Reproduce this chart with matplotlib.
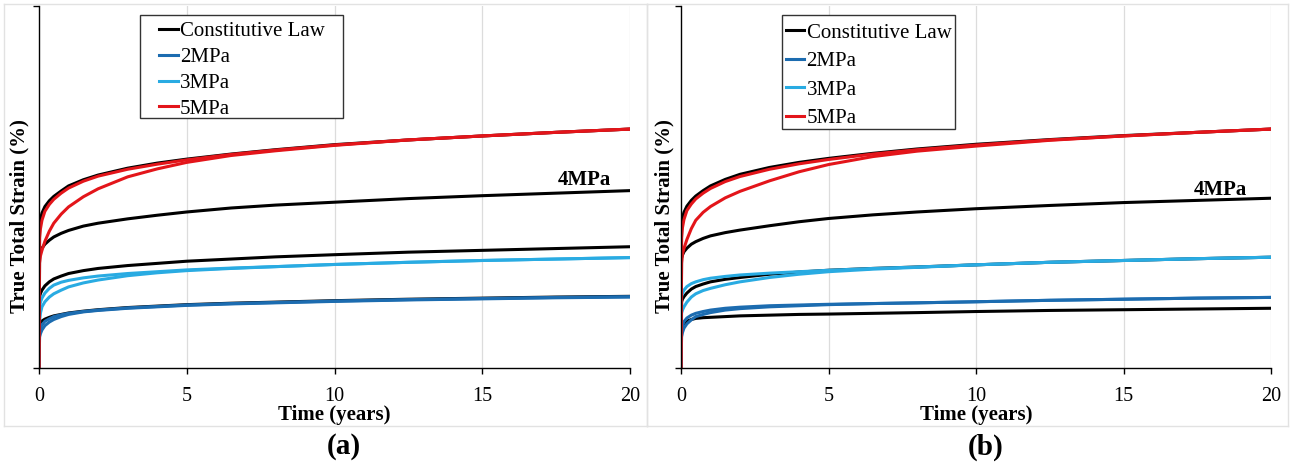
import matplotlib
matplotlib.use("Agg")
import matplotlib.pyplot as plt
from matplotlib.lines import Line2D
from matplotlib.patches import Rectangle

plt.rcParams['font.family'] = ['Liberation Serif', 'DejaVu Serif']

# time (years); strain in arbitrary units (the y axis carries no numbers)
t = [0, 0.02, 0.05, 0.1, 0.2, 0.35, 0.5, 0.75, 1, 1.5, 2, 3, 4, 5, 6.5, 8, 10, 12.5, 15, 17.5, 20]

# panel (a)
a_cl5 = [0, 3.90, 4.10, 4.28, 4.46, 4.62, 4.74, 4.89, 5.03, 5.20, 5.33, 5.52, 5.66, 5.77, 5.91, 6.03, 6.17, 6.30, 6.41, 6.51, 6.60]
a_cl4 = [0, 3.18, 3.24, 3.31, 3.42, 3.53, 3.62, 3.72, 3.80, 3.92, 4.00, 4.12, 4.22, 4.31, 4.42, 4.50, 4.58, 4.68, 4.76, 4.83, 4.90]
a_cl3 = [0, 1.97, 2.06, 2.15, 2.27, 2.38, 2.46, 2.54, 2.61, 2.69, 2.75, 2.83, 2.89, 2.95, 3.01, 3.07, 3.13, 3.20, 3.25, 3.30, 3.35]
a_cl2 = [0, 1.20, 1.25, 1.30, 1.35, 1.40, 1.44, 1.48, 1.52, 1.57, 1.61, 1.67, 1.71, 1.75, 1.79, 1.82, 1.86, 1.90, 1.93, 1.96, 1.98]
a_5a = [0, 3.60, 3.85, 4.08, 4.33, 4.52, 4.66, 4.83, 4.97, 5.16, 5.30, 5.49, 5.63, 5.75, 5.90, 6.02, 6.16, 6.30, 6.41, 6.51, 6.60]
a_5b = [0, 2.90, 3.10, 3.25, 3.50, 3.78, 4.00, 4.25, 4.45, 4.73, 4.95, 5.28, 5.50, 5.68, 5.87, 6.00, 6.15, 6.30, 6.41, 6.51, 6.60]
a_3a = [0, 1.69, 1.82, 1.93, 2.07, 2.20, 2.29, 2.37, 2.42, 2.49, 2.54, 2.61, 2.66, 2.71, 2.76, 2.80, 2.86, 2.92, 2.97, 3.01, 3.05]
a_3b = [0, 1.30, 1.52, 1.69, 1.83, 1.96, 2.05, 2.15, 2.24, 2.35, 2.43, 2.55, 2.63, 2.69, 2.75, 2.80, 2.86, 2.92, 2.97, 3.01, 3.05]
a_2a = [0, 1.00, 1.10, 1.19, 1.29, 1.36, 1.42, 1.47, 1.51, 1.56, 1.60, 1.66, 1.70, 1.74, 1.78, 1.81, 1.85, 1.89, 1.92, 1.95, 1.97]
a_2b = [0, 0.86, 0.95, 1.05, 1.17, 1.27, 1.34, 1.42, 1.48, 1.55, 1.59, 1.65, 1.69, 1.73, 1.77, 1.80, 1.84, 1.88, 1.91, 1.94, 1.96]

# panel (b)
b_cl5 = [0, 3.95, 4.14, 4.30, 4.47, 4.63, 4.75, 4.90, 5.03, 5.21, 5.35, 5.54, 5.68, 5.79, 5.93, 6.05, 6.18, 6.31, 6.42, 6.51, 6.60]
b_cl4 = [0, 3.04, 3.12, 3.21, 3.31, 3.42, 3.49, 3.58, 3.65, 3.74, 3.81, 3.93, 4.04, 4.13, 4.23, 4.31, 4.40, 4.49, 4.57, 4.63, 4.69]
b_cl3 = [0, 1.83, 1.90, 1.97, 2.07, 2.18, 2.25, 2.32, 2.38, 2.45, 2.50, 2.59, 2.65, 2.70, 2.75, 2.79, 2.85, 2.92, 2.97, 3.02, 3.06]
b_cl2 = [0, 1.14, 1.19, 1.23, 1.29, 1.34, 1.37, 1.39, 1.40, 1.42, 1.44, 1.46, 1.48, 1.49, 1.51, 1.53, 1.56, 1.59, 1.61, 1.63, 1.65]
b_5a = [0, 3.60, 3.88, 4.10, 4.35, 4.53, 4.67, 4.83, 4.96, 5.15, 5.29, 5.49, 5.64, 5.76, 5.91, 6.03, 6.16, 6.30, 6.41, 6.51, 6.60]
b_5b = [0, 2.90, 3.15, 3.30, 3.55, 3.85, 4.08, 4.30, 4.46, 4.70, 4.88, 5.17, 5.42, 5.62, 5.84, 5.99, 6.13, 6.29, 6.41, 6.51, 6.60]
b_3a = [0, 1.97, 2.07, 2.15, 2.25, 2.33, 2.38, 2.44, 2.48, 2.53, 2.57, 2.62, 2.66, 2.70, 2.75, 2.79, 2.85, 2.92, 2.97, 3.02, 3.06]
b_3b = [0, 1.52, 1.60, 1.69, 1.82, 1.96, 2.05, 2.14, 2.20, 2.30, 2.38, 2.50, 2.59, 2.66, 2.73, 2.78, 2.85, 2.92, 2.97, 3.02, 3.06]
b_2a = [0, 1.05, 1.17, 1.28, 1.38, 1.46, 1.51, 1.56, 1.60, 1.65, 1.68, 1.72, 1.74, 1.76, 1.78, 1.80, 1.83, 1.87, 1.90, 1.93, 1.95]
b_2b = [0, 0.86, 0.98, 1.10, 1.22, 1.33, 1.42, 1.48, 1.53, 1.60, 1.64, 1.69, 1.72, 1.75, 1.78, 1.80, 1.83, 1.87, 1.90, 1.93, 1.95]

labels = ['Constitutive Law', '2MPa', '3MPa', '5MPa']
c_cl = 'black'
c2 = '#1c6cb0'
c3 = '#29abe2'
c5 = '#e3151a'
lw = 2.2

W, H = 1292, 466
fig = plt.figure(figsize=(12.92, 4.66), dpi=100)

# light grey panel frames
for x0, x1 in [(4, 647), (647, 1288)]:
    for xs, ys in [([x0, x1], [4, 4]), ([x0, x1], [426, 426]), ([x0, x0], [4, 426]), ([x1, x1], [4, 426])]:
        fig.add_artist(Line2D([v / W for v in xs], [1 - v / H for v in ys],
                              color='#e2e2e2', lw=1))


def panel(ax, cl, sims, spacing, lab4, ylab_x, box, leg_xy):
    ax.set_xlim(0, 20)
    ax.set_ylim(0, 10)
    for x in [5, 10, 15, 20]:
        ax.axvline(x, color='#dcdcdc', lw=0.9, zorder=0)
    for y in cl:
        ax.plot(t, y, color=c_cl, lw=lw)
    for y, c in sims:
        ax.plot(t, y, color=c, lw=lw)
    ax.set_xticks([0, 5, 10, 15, 20])
    ax.set_yticks([0, 10])
    ax.set_yticklabels([])
    ax.tick_params(axis='x', direction='out', length=4, width=1, pad=10, labelsize=14.5)
    ax.tick_params(axis='y', direction='out', length=4, width=1)
    for s in ['top', 'right']:
        ax.spines[s].set_visible(False)
    for s in ['left', 'bottom']:
        ax.spines[s].set_linewidth(1.0)
    ax.set_xlabel('Time (years)', fontsize=15, fontweight='bold')
    ax.xaxis.set_label_coords(0.5, -0.102)
    ax.set_ylabel('True Total Strain (%)', fontsize=15, fontweight='bold')
    ax.yaxis.set_label_coords(ylab_x, 0.42)
    ax.text(lab4[0], lab4[1], '4MPa', fontsize=15, fontweight='bold',
            ha='center', va='center')
    # legend frame drawn by hand to match the original box
    ax.add_patch(Rectangle((box[0], box[1]), box[2] - box[0], box[3] - box[1],
                           transform=ax.transAxes, facecolor='white',
                           edgecolor='#333333', lw=1.0, zorder=4))
    handles = [Line2D([], [], color=c, lw=lw) for c in [c_cl, c2, c3, c5]]
    leg = ax.legend(handles, labels, loc='upper left', bbox_to_anchor=leg_xy,
                    borderaxespad=0, borderpad=0, fontsize=15, handlelength=0.9,
                    handletextpad=0.1, labelspacing=spacing, frameon=False)
    leg.set_zorder(5)


ax1 = fig.add_axes([39 / W, 1 - 368 / H, 591 / W, 362 / H])
panel(ax1, [a_cl5, a_cl4, a_cl3, a_cl2],
      [(a_2b, c2), (a_2a, c2), (a_3b, c3), (a_3a, c3), (a_5b, c5), (a_5a, c5)],
      0.30, (18.44, 5.19), -0.016,
      (0.1709, 0.6906, 0.5144, 0.975), (0.203, 0.957))

ax2 = fig.add_axes([681 / W, 1 - 368 / H, 590 / W, 362 / H])
panel(ax2, [b_cl5, b_cl4, b_cl3, b_cl2],
      [(b_2b, c2), (b_2a, c2), (b_3b, c3), (b_3a, c3), (b_5b, c5), (b_5a, c5)],
      0.43, (18.3, 4.92), -0.0103,
      (0.1712, 0.660, 0.4644, 0.975), (0.1775, 0.953))

fig.text(344 / W, 1 - 447 / H, '(a)', fontsize=21, fontweight='bold', ha='center', va='center')
fig.text(986 / W, 1 - 447 / H, '(b)', fontsize=21, fontweight='bold', ha='center', va='center')

fig.savefig('out.png', dpi=100)
